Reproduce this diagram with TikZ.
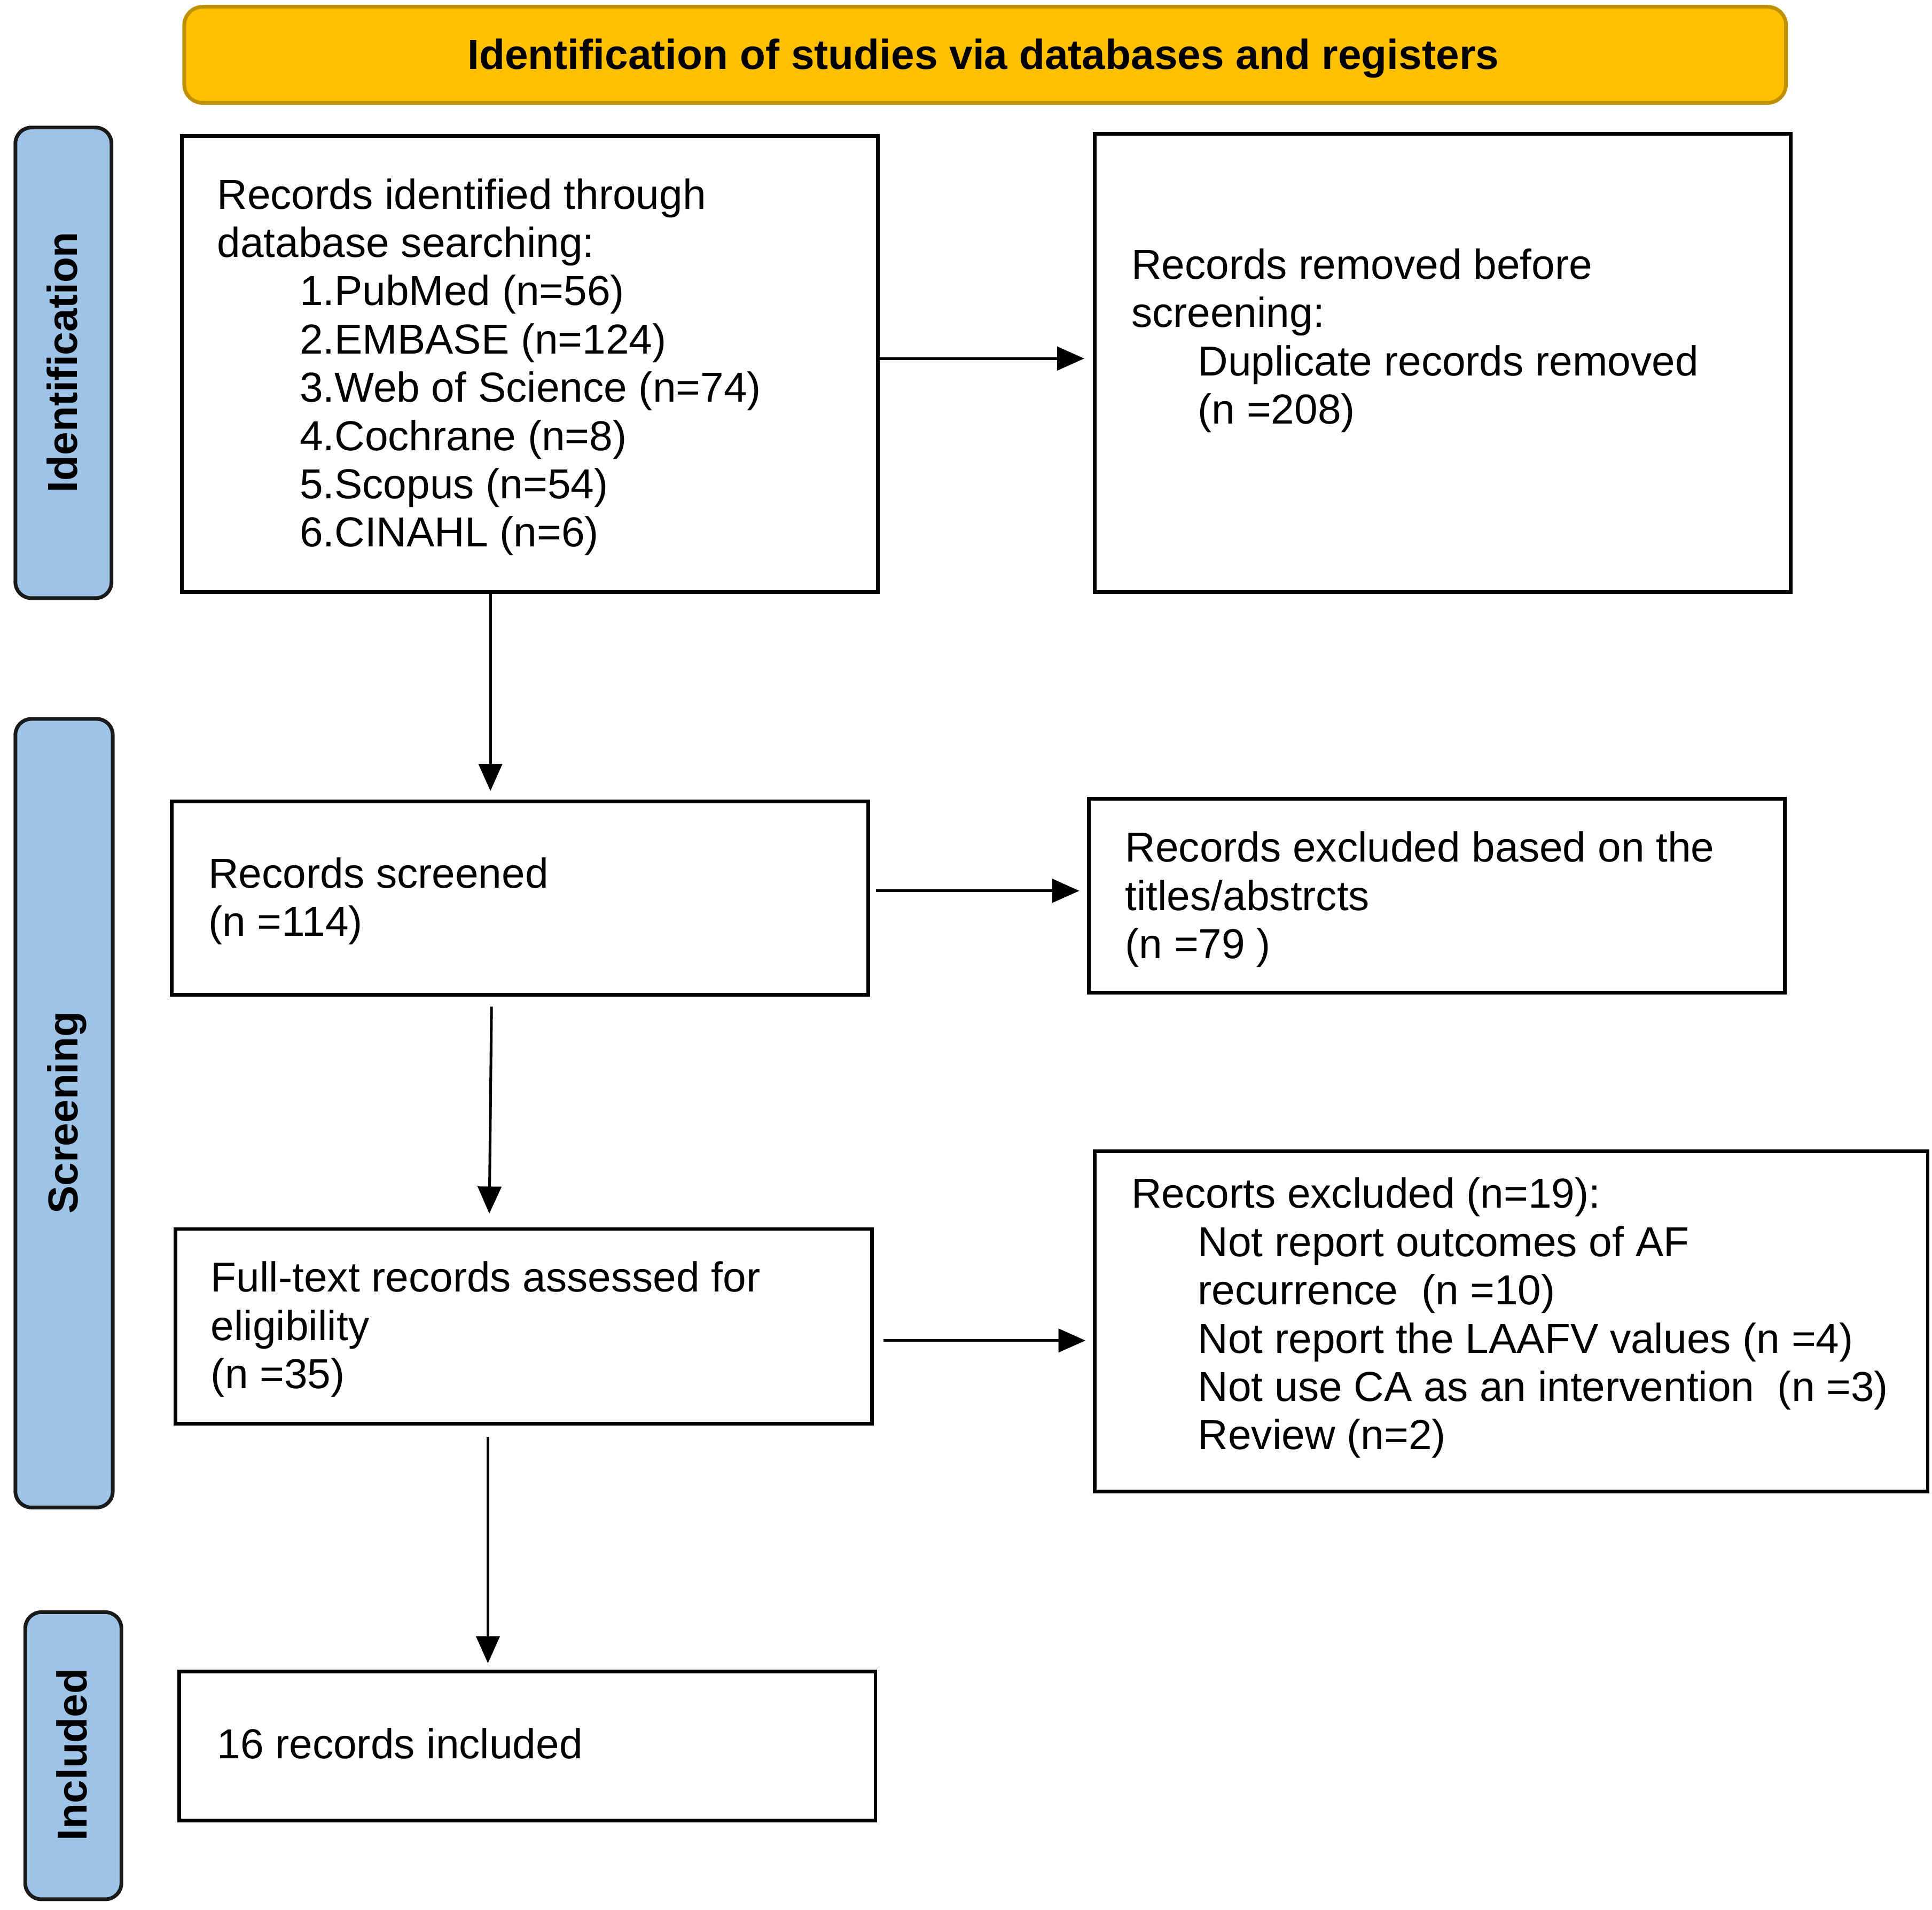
\documentclass[tikz,border=0pt]{standalone}
\usepackage{fontspec}
\setmainfont{Liberation Sans}
\usetikzlibrary{arrows.meta}
\definecolor{gold}{HTML}{FFC000}
\definecolor{golddark}{HTML}{BF9000}
\definecolor{bluefill}{HTML}{9DC3E6}
\definecolor{sideline}{HTML}{1A1A1A}
\begin{document}
\begin{tikzpicture}[x=1pt,y=-1pt,
  box/.style={draw=black, line width=3pt, fill=white, inner sep=0pt, anchor=north west},
  txt/.style={inner sep=0pt, anchor=base west, font=\fontsize{34}{39.2}\selectfont},
  arr/.style={line width=2.2pt, -{Triangle[length=22pt,width=19pt]}},
  side/.style={draw=sideline, line width=3pt, fill=bluefill, rounded corners=13pt, inner sep=0pt, anchor=north west},
  sidetxt/.style={font=\fontsize{34}{40}\selectfont\bfseries, rotate=90, anchor=base, inner sep=0pt}]
\useasboundingbox[fill=white] (0,0) rectangle (1568,1549.8);

% title
\node[draw=golddark, fill=gold, line width=3pt, rounded corners=15pt, minimum width=1300pt, minimum height=78pt, anchor=north west, inner sep=0pt] (title) at (148,4) {};
\node[font=\fontsize{34}{40}\selectfont\bfseries, anchor=base, inner sep=0pt] (titletxt) at (798,56) {Identification of studies via databases and registers};

% side bars
\node[side, minimum width=78pt, minimum height=382pt] (s1) at (11,102) {};
\node[side, minimum width=79pt, minimum height=640pt] (s2) at (11,582) {};
\node[side, minimum width=78pt, minimum height=233pt] (s3) at (19,1307) {};
\node[sidetxt] (l1) at (62.5,294) {Identification};
\node[sidetxt] (l2) at (63,903) {Screening};
\node[sidetxt] (l3) at (70.5,1424) {Included};

% boxes
\node[box, minimum width=565pt, minimum height=370pt] (A) at (146,109) {};
\node[box, minimum width=565pt, minimum height=372pt] (B) at (887,107) {};
\node[box, minimum width=565pt, minimum height=157pt] (C) at (138,649) {};
\node[box, minimum width=565pt, minimum height=157pt] (D) at (882,647) {};
\node[box, minimum width=565pt, minimum height=158pt] (E) at (141,996) {};
\node[box, minimum width=676pt, minimum height=276pt] (F) at (887,933) {};
\node[box, minimum width=565pt, minimum height=121pt] (G) at (144,1355) {};

% texts
\node[txt] (At) at (176,169.5) {\begin{tabular}[t]{@{}l@{}}Records identified through\\
database searching:\\
\hspace*{67pt}1.PubMed (n=56)\\
\hspace*{67pt}2.EMBASE (n=124)\\
\hspace*{67pt}3.Web of Science (n=74)\\
\hspace*{67pt}4.Cochrane (n=8)\\
\hspace*{67pt}5.Scopus (n=54)\\
\hspace*{67pt}6.CINAHL (n=6)\end{tabular}};
\node[txt] (Bt) at (918,226.5) {\begin{tabular}[t]{@{}l@{}}Records removed before\\
screening:\\
\hspace*{54pt}Duplicate records removed\\
\hspace*{54pt}(n =208)\end{tabular}};
\node[txt] (Ct) at (169,720.5) {\begin{tabular}[t]{@{}l@{}}Records screened\\
(n =114)\end{tabular}};
\node[txt] (Dt) at (913,699.5) {\begin{tabular}[t]{@{}l@{}}Records excluded based on the\\
titles/abstrcts\\
(n =79 )\end{tabular}};
\node[txt] (Et) at (171,1048.5) {\begin{tabular}[t]{@{}l@{}}Full-text records assessed for\\
eligibility\\
(n =35)\end{tabular}};
\node[txt] (Ft) at (918,980.5) {\begin{tabular}[t]{@{}l@{}}Recorts excluded (n=19):\\
\hspace*{54pt}Not report outcomes of AF\\
\hspace*{54pt}recurrence\ \ (n =10)\\
\hspace*{54pt}Not report the LAAFV values (n =4)\\
\hspace*{54pt}Not use CA as an intervention\ \ (n =3)\\
\hspace*{54pt}Review (n=2)\end{tabular}};
\node[txt] (Gt) at (176,1427.5) {16 records included};

% connector guides
\coordinate (ya) at (0,291);
\coordinate (xa) at (398,0);
\coordinate (yc) at (0,723);
\coordinate (xc1) at (399,0);
\coordinate (xc2) at (397,0);
\coordinate (ye) at (0,1088);
\coordinate (xg) at (396,0);

% connectors
\draw[arr, shorten >=7pt] (A.east |- ya) -- (B.west |- ya);
\draw[arr, shorten >=7pt] (A.south -| xa) -- (C.north -| xa);
\draw[arr, shorten <=5pt, shorten >=6pt] (C.east |- yc) -- (D.west |- yc);
\draw[arr, shorten <=8pt, shorten >=11pt] (C.south -| xc1) -- (E.north -| xc2);
\draw[arr, shorten <=8pt, shorten >=6pt] (E.east |- ye) -- (F.west |- ye);
\draw[arr, shorten <=9pt, shorten >=5pt] (E.south -| xg) -- (G.north -| xg);
\end{tikzpicture}
\end{document}
